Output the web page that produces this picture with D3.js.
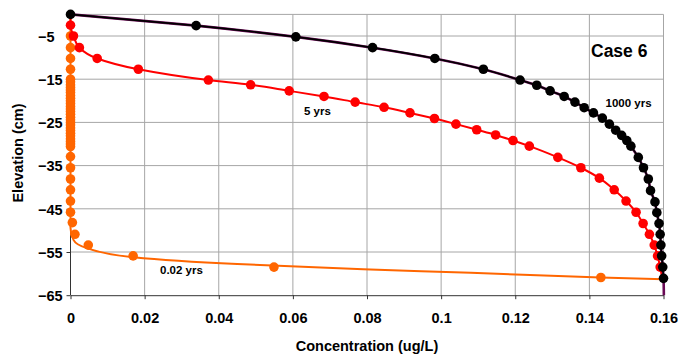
<!DOCTYPE html>
<html>
<head>
<meta charset="utf-8">
<script src="https://cdn.jsdelivr.net/npm/d3@7"></script>
<style>
  body { margin: 0; background: #fff; }
  svg { display: block; font-family: "Liberation Sans", Arial, sans-serif; font-weight: bold; }
  .grid line { stroke: #a6a6a6; stroke-width: 1; }
  .axis path, .axis line { stroke: #333; }
  .axis text { font-size: 14.5px; font-weight: bold; fill: #000; }
</style>
</head>
<body>
<script>
// concentration (ug/L), elevation (cm) profiles for three times

// 1000 yrs
const blackPts = [
  [0, 0], [0.0339, -2.6], [0.0608, -5.2], [0.0815, -7.7], [0.0983, -10.2],
  [0.1114, -12.7], [0.1213, -15.2], [0.1258, -16.4], [0.1294, -17.7], [0.1332, -19.0],
  [0.1361, -20.3], [0.1386, -21.6], [0.1411, -22.8], [0.1435, -24.0], [0.1454, -25.4],
  [0.1471, -26.8], [0.1487, -28.0], [0.1501, -29.2], [0.1512, -30.5], [0.1532, -33.1],
  [0.1546, -35.5], [0.1559, -38.1], [0.1565, -40.8], [0.1577, -43.4], [0.1582, -45.9],
  [0.1588, -48.4], [0.1591, -50.9], [0.1593, -53.4], [0.1595, -55.9], [0.1598, -58.5],
  [0.16, -61.1]
];

// 5 yrs
const redPts = [
  [0, -2.5], [0.0008, -5.0], [0.0024, -7.7], [0.0072, -10.2], [0.0183, -12.7],
  [0.0372, -15.2], [0.0486, -16.3], [0.0590, -17.7], [0.0684, -19.0], [0.0768, -20.3],
  [0.0846, -21.5], [0.0916, -22.8], [0.0982, -24.1], [0.1040, -25.4], [0.1096, -26.7],
  [0.1147, -27.9], [0.1194, -29.2], [0.1238, -30.5], [0.1315, -33.1], [0.1377, -35.5],
  [0.1427, -37.9], [0.1467, -40.6], [0.1499, -43.2], [0.1526, -45.8], [0.1545, -48.4],
  [0.1562, -50.9], [0.1575, -53.4], [0.1584, -55.9], [0.1591, -58.5]
];

// 0.02 yrs
const orangePts = [
  [0, -5.0], [0, -7.7], [0, -10.2], [0, -12.7],
  [0, -15.0], [0, -15.6], [0, -16.3], [0, -16.9], [0, -17.5], [0, -18.1], [0, -18.8],
  [0, -19.4], [0, -20.0], [0, -20.6], [0, -21.3], [0, -21.9], [0, -22.5], [0, -23.1],
  [0, -23.8], [0, -24.4], [0, -25.0], [0, -25.6], [0, -26.3], [0, -26.9], [0, -27.5],
  [0, -28.1], [0, -28.8], [0, -29.4], [0, -30.0], [0, -30.6],
  [0, -32.9], [0, -35.5], [0, -38.1], [0, -40.6], [0, -43.2], [0, -45.8], [0.0005, -48.2],
  [0.0012, -50.9], [0.0048, -53.4], [0.0169, -55.9], [0.0549, -58.5], [0.1431, -60.9]
];

// fitted curves
const blackCurve = blackPts.concat([[0.1601, -65]]);
const redCurve = [[0, 0]].concat(redPts, [[0.1597, -61.5]]);
const orangeCurve = [
  [0, 0], [0, -49.4], [0.0008, -52.2], [0.0044, -54.1], [0.017, -56.2],
  [0.045, -57.8], [0.079, -59.0], [0.108, -59.8], [0.143, -60.9], [0.16, -61.3]
];

const xTicks = [0, 0.02, 0.04, 0.06, 0.08, 0.1, 0.12, 0.14, 0.16];
const xTickLabels = ["0", "0.02", "0.04", "0.06", "0.08", "0.1", "0.12", "0.14", "0.16"];
const yTicks = [-5, -15, -25, -35, -45, -55, -65];

let w = 693;
let h = 360;
const margin = {top: 14.4, right: 29.5, bottom: 64.8, left: 70.5};

const xScale = d3.scaleLinear()
  .domain([0, 0.16])
  .range([margin.left, w - margin.right]);

const yScale = d3.scaleLinear()
  .domain([-65, 0])
  .range([h - margin.bottom, margin.top]);

const svg = d3.select("body")
  .append("svg")
  .attr("width", w)
  .attr("height", h);

// grid, including top and right border
const grid = svg.append("g").attr("class", "grid");
grid.selectAll("line.v")
  .data(xTicks.slice(1))
  .enter()
  .append("line")
  .attr("class", "v")
  .attr("x1", function(d) { return xScale(d); })
  .attr("x2", function(d) { return xScale(d); })
  .attr("y1", yScale(0))
  .attr("y2", yScale(-65));
grid.selectAll("line.h")
  .data([0].concat(yTicks.slice(0, -1)))
  .enter()
  .append("line")
  .attr("class", "h")
  .attr("x1", xScale(0))
  .attr("x2", xScale(0.16))
  .attr("y1", function(d) { return yScale(d); })
  .attr("y2", function(d) { return yScale(d); });

const xAxis = d3.axisBottom(xScale)
  .tickValues(xTicks)
  .tickSize(4)
  .tickSizeOuter(0)
  .tickPadding(13.5)
  .tickFormat(function(d, i) { return xTickLabels[i]; });

const yAxis = d3.axisLeft(yScale)
  .tickValues(yTicks)
  .tickSize(4)
  .tickSizeOuter(0);

svg.append("g")
  .attr("class", "axis")
  .attr("transform", "translate(0," + (h - margin.bottom) + ")")
  .call(xAxis);

svg.append("g")
  .attr("class", "axis")
  .attr("transform", "translate(" + margin.left + ",0)")
  .call(yAxis)
  .call(function(g) {
    g.select(".domain").attr("d", "M0," + yScale(0) + "V" + yScale(-65));
    g.selectAll("text")
      .attr("text-anchor", "start")
      .attr("x", -32.5)
      .attr("dy", "0.36em");
  });

const line = d3.line()
  .x(function(d) { return xScale(d[0]); })
  .y(function(d) { return yScale(d[1]); })
  .curve(d3.curveMonotoneY);

function drawPoints(data, color) {
  svg.append("g")
    .selectAll("circle")
    .data(data)
    .enter()
    .append("circle")
    .attr("cx", function(d) { return xScale(d[0]); })
    .attr("cy", function(d) { return yScale(d[1]); })
    .attr("r", 4.8)
    .attr("fill", color);
}

svg.append("path")
  .datum(orangeCurve)
  .attr("d", line)
  .attr("fill", "none")
  .attr("stroke", "#ff6600")
  .attr("stroke-width", 2);
drawPoints(orangePts, "#ff6600");

svg.append("path")
  .datum(redCurve)
  .attr("d", line)
  .attr("fill", "none")
  .attr("stroke", "#ff0000")
  .attr("stroke-width", 2);
drawPoints(redPts, "#ff0000");

svg.append("path")
  .datum(blackCurve)
  .attr("d", line)
  .attr("fill", "none")
  .attr("stroke", "#6a0a55")
  .attr("stroke-width", 2.6);
svg.append("path")
  .datum(blackPts)
  .attr("d", line)
  .attr("fill", "none")
  .attr("stroke", "#000")
  .attr("stroke-width", 1.6);
drawPoints(blackPts, "#000");

// annotations
svg.append("text")
  .attr("x", 591)
  .attr("y", 56.5)
  .style("font-size", "17.5px")
  .text("Case 6");

svg.append("text")
  .attr("x", 605.5)
  .attr("y", 107)
  .style("font-size", "11.5px")
  .text("1000 yrs");

svg.append("text")
  .attr("x", 304)
  .attr("y", 115)
  .style("font-size", "11.5px")
  .text("5 yrs");

svg.append("text")
  .attr("x", 160)
  .attr("y", 273.5)
  .style("font-size", "11.5px")
  .text("0.02 yrs");

// axis titles
svg.append("text")
  .attr("x", (margin.left + w - margin.right) / 2)
  .attr("y", 350.5)
  .attr("text-anchor", "middle")
  .style("font-size", "14.5px")
  .text("Concentration (ug/L)");

svg.append("text")
  .attr("transform", "translate(23,153) rotate(-90)")
  .attr("text-anchor", "middle")
  .style("font-size", "14.5px")
  .text("Elevation (cm)");
</script>
</body>
</html>
